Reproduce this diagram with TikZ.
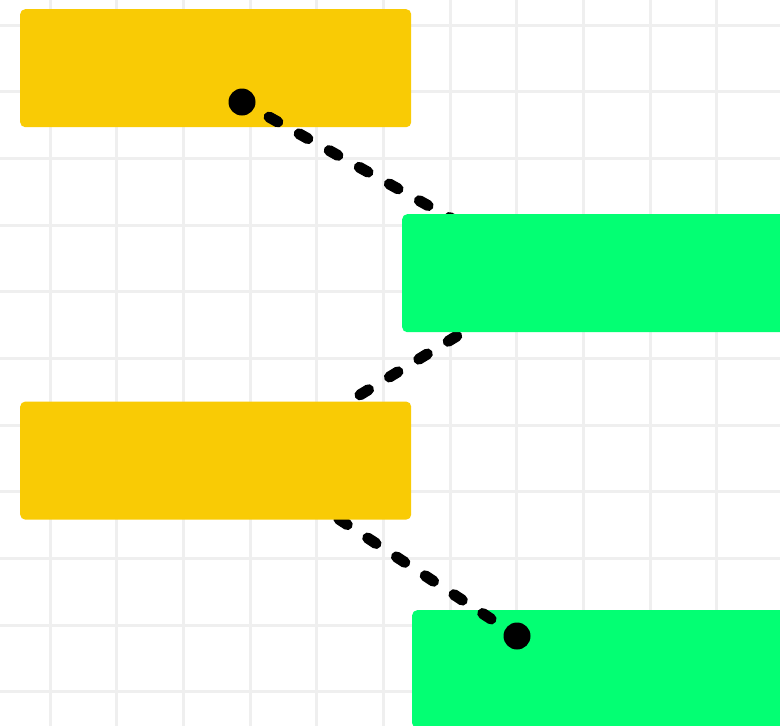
\documentclass[tikz,border=0pt]{standalone}
\usepackage{tikz}
\usetikzlibrary{positioning,backgrounds}
\definecolor{ylw}{HTML}{F9CB05}
\definecolor{grn}{HTML}{03FF73}
\definecolor{gridc}{HTML}{EFEFEF}
\tikzset{
  card/.style={fill=#1, rounded corners=5pt, anchor=north west, inner sep=0pt,
               minimum width=391pt, minimum height=118pt},
  card/.default=ylw,
  gridline/.style={draw=gridc, line width=3pt},
  pin/.style={circle, fill=black, inner sep=0pt, minimum size=27pt},
  link/.style={draw=black, line width=11pt, line cap=round, dash pattern=on 10pt off 24.4pt},
}
\begin{document}
\begin{tikzpicture}[x=1pt, y=-1pt]
  \clip (0,0) rectangle (780,726);
  \fill[white] (0,0) rectangle (780,726);
  % --- raster
  \foreach \gx in {0,...,10}
    \draw[gridline] ({50+66.67*\gx},0) -- ++(0,726);
  \foreach \gy in {0,...,10}
    \draw[gridline] (0,{25+66.67*\gy}) -- ++(780,0);

  % --- lower cards
  \node[card=ylw] (y1) at (20,9) {};
  \node[card=grn] (g2) at (412,610) {};

  % --- pins and free ends
  \node[pin] (p1) at (242,102) {};
  \node[pin] (p2) at (517,636) {};
  \coordinate (e1) at (472,230);
  \coordinate (e2) at (480,322);
  \coordinate (e3) at (340,407);
  \coordinate (e4) at (325,510);

  % --- links
  \draw[link, dash phase=3.4pt] (p1.center) -- (e1);
  \draw[link, dash phase=7.2pt] (e2) -- (e3);
  \draw[link, dash phase=3.4pt] (p2.center) -- (e4);

  % --- upper cards
  \node[card=grn] (g1) at (402,214) {};
  \node[card=ylw, below=274pt of y1.south west, anchor=north west] (y2) {};
\end{tikzpicture}
\end{document}
